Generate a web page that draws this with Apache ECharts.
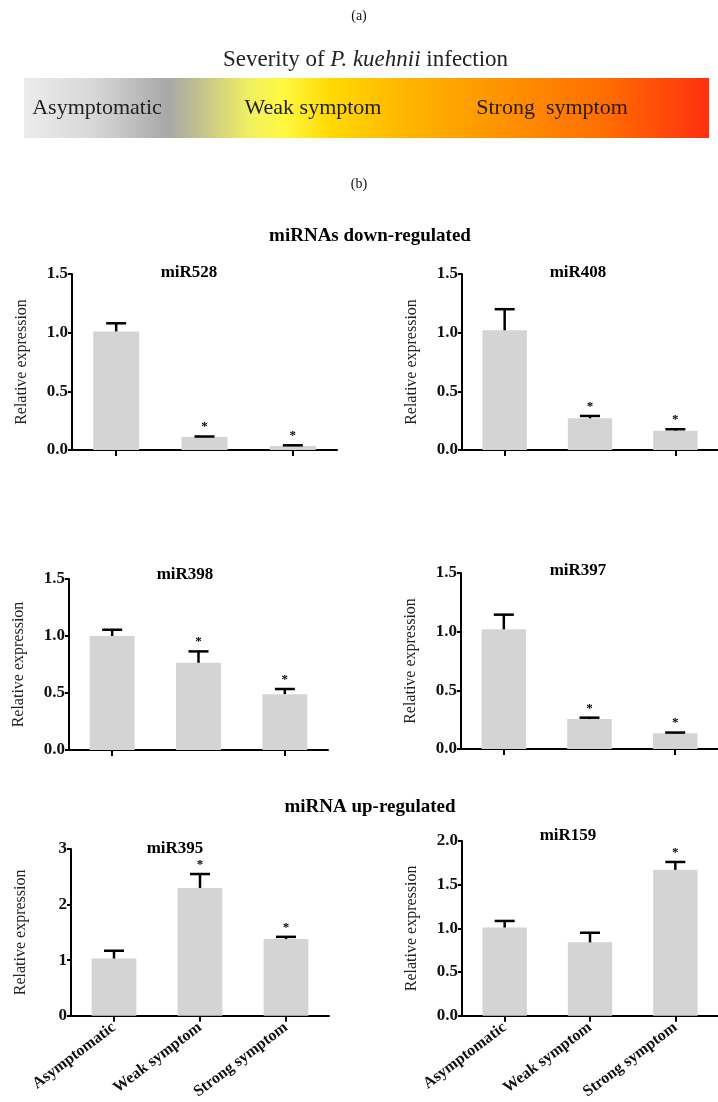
<!DOCTYPE html>
<html><head><meta charset="utf-8">
<script src="https://cdn.jsdelivr.net/npm/echarts@6/dist/echarts.min.js"></script>
<style>html,body{margin:0;padding:0;background:#fff}#c{width:718px;height:1102px}</style>
</head><body><div id="c"></div>
<script>
// ---- data ----
const categories = ['Asymptomatic', 'Weak symptom', 'Strong symptom'];
const panelNames = ['miR528', 'miR408', 'miR398', 'miR397', 'miR395', 'miR159'];
const miR528 = [1.01, 0.11, 0.035];
const miR528Err = [0.07, 0.005, 0.005];
const miR408 = [1.02, 0.27, 0.165];
const miR408Err = [0.18, 0.02, 0.012];
const miR398 = [1.00, 0.765, 0.49];
const miR398Err = [0.055, 0.10, 0.045];
const miR397 = [1.02, 0.255, 0.135];
const miR397Err = [0.125, 0.012, 0.005];
const miR395 = [1.03, 2.30, 1.38];
const miR395Err = [0.14, 0.25, 0.04];
const miR159 = [1.01, 0.84, 1.67];
const miR159Err = [0.075, 0.11, 0.09];
const miR528Star = [0, 1, 1];
const miR408Star = [0, 1, 1];
const miR398Star = [0, 1, 1];
const miR397Star = [0, 1, 1];
const miR395Star = [0, 1, 1];
const miR159Star = [0, 0, 1];
const yMaxList = [1.5, 1.5, 1.5, 1.5, 3, 2];
const yIntervalList = [0.5, 0.5, 0.5, 0.5, 1, 0.5];
const headingDown = 'miRNAs down-regulated';
const headingUp = 'miRNA up-regulated';
const severityTitle = 'Severity of ';
const pathogen = 'P. kuehnii';
const severityTail = ' infection';

const means = [miR528, miR408, miR398, miR397, miR395, miR159];
const errs = [miR528Err, miR408Err, miR398Err, miR397Err, miR395Err, miR159Err];
const starsAll = [miR528Star, miR408Star, miR398Star, miR397Star, miR395Star, miR159Star];

// ---- layout ----
const SERIF = '"Liberation Serif", "DejaVu Serif", serif';
const grids = [
  {left: 72, top: 274, width: 265, height: 176},
  {left: 462, top: 274, width: 265, height: 176},
  {left: 69, top: 579, width: 259, height: 171},
  {left: 461, top: 573, width: 265, height: 176},
  {left: 71, top: 849, width: 258, height: 170},
  {left: 462, top: 841, width: 264, height: 176}
];
const titlePos = [[189, 273], [578, 273], [185, 575], [578, 571], [175, 849], [568, 836]];

const chart = echarts.init(document.getElementById('c'), null, {renderer: 'canvas'});

const xAxes = [], yAxes = [], series = [];
grids.forEach((g, i) => {
  const bottomRow = i >= 4;
  xAxes.push({
    type: 'category', gridIndex: i, data: categories,
    axisLine: {show: true, lineStyle: {color: '#000', width: 2}},
    axisTick: {show: true, alignWithLabel: true, length: 6, lineStyle: {color: '#000', width: 2}},
    axisLabel: bottomRow ? {show: true, interval: 0, rotate: 37, margin: 10,
      fontFamily: SERIF, fontWeight: 'bold', fontSize: 16, color: '#111'} : {show: false},
    splitLine: {show: false}
  });
  const dec = yIntervalList[i] < 1 ? 1 : 0;
  yAxes.push({
    type: 'value', gridIndex: i, min: 0, max: yMaxList[i], interval: yIntervalList[i],
    name: 'Relative expression', nameLocation: 'middle', nameGap: 42, nameRotate: 90,
    nameTextStyle: {fontFamily: SERIF, fontSize: 16, color: '#222'},
    axisLine: {show: true, lineStyle: {color: '#000', width: 2}},
    axisTick: {show: true, length: 4, lineStyle: {color: '#000', width: 2}},
    axisLabel: {show: true, margin: 4, fontFamily: SERIF, fontWeight: 'bold', fontSize: 17, color: '#111',
      formatter: v => v.toFixed(dec)},
    splitLine: {show: false}
  });
  series.push({
    type: 'bar', xAxisIndex: i, yAxisIndex: i, data: means[i], barWidth: '52%',
    itemStyle: {color: '#d4d4d4'}, silent: true, z: 2
  });
  const errData = means[i].map((m, k) => [k, m, m + errs[i][k], starsAll[i][k]]);
  series.push({
    type: 'custom', xAxisIndex: i, yAxisIndex: i, data: errData, z: 3, silent: true,
    encode: {x: 0, y: [1, 2]},
    renderItem: (params, api) => {
      const k = api.value(0);
      const base = api.coord([k, api.value(1)]);
      const top = api.coord([k, api.value(2)]);
      const half = 10;
      const children = [
        {type: 'line', shape: {x1: top[0], y1: base[1], x2: top[0], y2: top[1]},
          style: {stroke: '#000', lineWidth: 2.5}},
        {type: 'line', shape: {x1: top[0] - half, y1: top[1], x2: top[0] + half, y2: top[1]},
          style: {stroke: '#000', lineWidth: 2.5}}
      ];
      if (api.value(3)) {
        children.push({type: 'text', x: top[0], y: top[1] - 3,
          style: {text: '*', fontFamily: SERIF, fontSize: 13, fontWeight: 'bold', fill: '#000',
            align: 'center', verticalAlign: 'bottom'}});
      }
      return {type: 'group', children};
    }
  });
});

// measure the title pieces so the italic name sits inline
const TF = 23;
const ctx = document.createElement('canvas').getContext('2d');
ctx.font = TF + 'px "Liberation Serif"';
const w1 = ctx.measureText(severityTitle).width;
ctx.font = 'italic ' + TF + 'px "Liberation Serif"';
const w2 = ctx.measureText(pathogen).width;
const titleX = 223;

const graphics = [
  {type: 'text', x: 359, y: 16, style: {text: '(a)', fontFamily: SERIF, fontSize: 14, fill: '#111', align: 'center', verticalAlign: 'middle'}},
  {type: 'text', x: titleX, y: 60, style: {text: severityTitle, fontFamily: SERIF, fontSize: TF, fill: '#222', align: 'left', verticalAlign: 'middle'}},
  {type: 'text', x: titleX + w1, y: 60, style: {text: pathogen, fontFamily: SERIF, fontStyle: 'italic', fontSize: TF, fill: '#222', align: 'left', verticalAlign: 'middle'}},
  {type: 'text', x: titleX + w1 + w2, y: 60, style: {text: severityTail, fontFamily: SERIF, fontSize: TF, fill: '#222', align: 'left', verticalAlign: 'middle'}},
  {type: 'rect', shape: {x: 24, y: 78, width: 685, height: 60},
    style: {fill: new echarts.graphic.LinearGradient(0, 0, 1, 0, [
      {offset: 0, color: '#ececec'},
      {offset: 0.1, color: '#d8d8d8'},
      {offset: 0.21, color: '#a8a8a8'},
      {offset: 0.26, color: '#c4c48c'},
      {offset: 0.33, color: '#f2f060'},
      {offset: 0.38, color: '#fff840'},
      {offset: 0.45, color: '#ffd800'},
      {offset: 0.55, color: '#ffb800'},
      {offset: 0.66, color: '#ff9c00'},
      {offset: 0.84, color: '#ff7000'},
      {offset: 1, color: '#ff3010'}
    ])}},
  {type: 'text', x: 97, y: 108, style: {text: 'Asymptomatic', fontFamily: SERIF, fontSize: 22, fill: '#222', align: 'center', verticalAlign: 'middle'}},
  {type: 'text', x: 313, y: 108, style: {text: 'Weak symptom', fontFamily: SERIF, fontSize: 22, fill: '#222', align: 'center', verticalAlign: 'middle'}},
  {type: 'text', x: 552, y: 108, style: {text: 'Strong  symptom', fontFamily: SERIF, fontSize: 22, fill: '#2a1a10', align: 'center', verticalAlign: 'middle'}},
  {type: 'text', x: 359, y: 184, style: {text: '(b)', fontFamily: SERIF, fontSize: 14, fill: '#111', align: 'center', verticalAlign: 'middle'}},
  {type: 'text', x: 370, y: 236, style: {text: headingDown, fontFamily: SERIF, fontSize: 19, fontWeight: 'bold', fill: '#000', align: 'center', verticalAlign: 'middle'}},
  {type: 'text', x: 370, y: 807, style: {text: headingUp, fontFamily: SERIF, fontSize: 19, fontWeight: 'bold', fill: '#000', align: 'center', verticalAlign: 'middle'}}
];
titlePos.forEach((p, i) => {
  graphics.push({type: 'text', x: p[0], y: p[1], style: {text: panelNames[i], fontFamily: SERIF, fontSize: 17, fontWeight: 'bold', fill: '#000', align: 'center', verticalAlign: 'middle'}});
});

chart.setOption({
  backgroundColor: '#fff',
  animation: false,
  grid: grids.map(g => Object.assign({containLabel: false}, g)),
  xAxis: xAxes, yAxis: yAxes, series,
  graphic: {elements: graphics}
});
</script></body></html>
